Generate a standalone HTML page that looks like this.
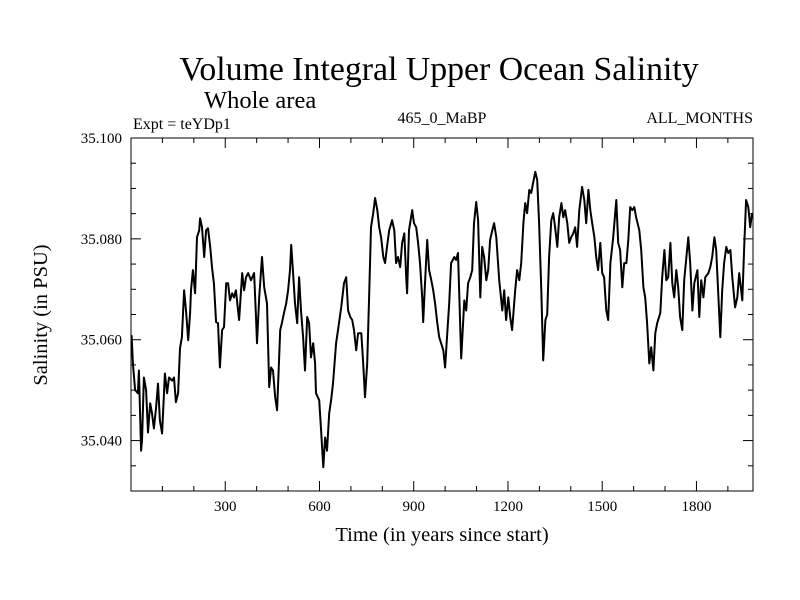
<!DOCTYPE html>
<html><head><meta charset="utf-8"><style>
body{margin:0;background:#fff;}
svg{display:block;font-family:"Liberation Serif",serif;}
</style></head><body>
<svg id="chart" width="800" height="600" viewBox="0 0 800 600">
<rect x="0" y="0" width="800" height="600" fill="#fff"/>
<text x="439" y="80" font-size="33.8" text-anchor="middle">Volume Integral Upper Ocean Salinity</text>
<text x="204" y="108" font-size="24.5">Whole area</text>
<text x="133" y="129" font-size="16">Expt = teYDp1</text>
<text x="442" y="123" font-size="16" text-anchor="middle">465_0_MaBP</text>
<text x="753" y="123" font-size="16" text-anchor="end">ALL_MONTHS</text>
<text x="442" y="541" font-size="20.5" text-anchor="middle">Time (in years since start)</text>
<text x="0" y="0" font-size="20.5" text-anchor="middle" transform="translate(47,315) rotate(-90)">Salinity (in PSU)</text>
<g id="axes"></g>
<path id="series" fill="none" stroke="#000" stroke-width="2" stroke-linejoin="round"/>
<rect x="131" y="138" width="622" height="353" fill="none" stroke="#000" stroke-width="1"/>
</svg>
<script>
const years=[2,6,13,22,25,32,35,41,48,54,61,67,73,80,86,92,99,108,115,121,131,137,143,150,156,162,169,175,182,188,191,197,204,210,217,220,226,233,239,245,252,258,264,271,277,283,290,296,303,309,315,322,328,334,344,354,360,366,373,382,392,398,401,408,417,424,433,440,446,452,459,465,475,481,487,494,500,506,510,516,522,529,535,541,548,554,561,567,573,580,586,589,599,605,612,618,624,631,637,643,653,659,669,678,685,691,698,704,710,717,723,733,739,745,752,758,764,771,777,784,790,796,803,809,815,822,831,838,844,850,857,863,870,876,879,885,895,901,908,914,920,927,930,936,943,949,956,962,968,975,981,987,994,1000,1006,1013,1019,1029,1035,1041,1051,1061,1067,1073,1080,1086,1092,1099,1105,1112,1118,1124,1131,1137,1143,1150,1156,1163,1172,1182,1188,1194,1201,1207,1213,1223,1229,1236,1242,1249,1255,1261,1268,1274,1280,1287,1293,1299,1306,1312,1319,1325,1331,1338,1344,1350,1357,1363,1370,1376,1382,1389,1395,1401,1408,1414,1420,1427,1436,1443,1449,1456,1462,1468,1475,1481,1487,1494,1500,1506,1513,1519,1526,1535,1545,1551,1557,1564,1570,1577,1583,1589,1596,1602,1608,1618,1624,1631,1637,1643,1650,1656,1663,1669,1675,1685,1691,1698,1704,1710,1717,1723,1729,1736,1742,1748,1755,1761,1768,1774,1780,1787,1793,1803,1809,1815,1822,1828,1838,1844,1850,1857,1863,1869,1876,1882,1888,1895,1901,1908,1914,1923,1930,1936,1946,1952,1958,1965,1971,1977];
const salinity=[35.0609,35.0553,35.0500,35.0494,35.0539,35.0380,35.0400,35.0525,35.0500,35.0416,35.0474,35.0454,35.0424,35.0466,35.0513,35.0440,35.0414,35.0533,35.0494,35.0525,35.0519,35.0525,35.0476,35.0494,35.0583,35.0605,35.0698,35.0658,35.0599,35.0653,35.0698,35.0738,35.0692,35.0803,35.0817,35.0841,35.0823,35.0764,35.0817,35.0821,35.0784,35.0744,35.0712,35.0635,35.0633,35.0545,35.0619,35.0625,35.0712,35.0712,35.0678,35.0692,35.0684,35.0698,35.0639,35.0732,35.0698,35.0724,35.0732,35.0718,35.0732,35.0645,35.0593,35.0684,35.0764,35.0704,35.0672,35.0506,35.0545,35.0539,35.0486,35.0460,35.0619,35.0635,35.0653,35.0672,35.0698,35.0738,35.0788,35.0732,35.0672,35.0633,35.0724,35.0658,35.0605,35.0539,35.0645,35.0633,35.0565,35.0593,35.0553,35.0494,35.0480,35.0420,35.0347,35.0406,35.0380,35.0454,35.0480,35.0513,35.0593,35.0619,35.0664,35.0712,35.0724,35.0658,35.0645,35.0639,35.0619,35.0579,35.0613,35.0613,35.0553,35.0486,35.0553,35.0684,35.0823,35.0851,35.0881,35.0857,35.0823,35.0803,35.0764,35.0752,35.0784,35.0817,35.0837,35.0817,35.0752,35.0764,35.0744,35.0792,35.0811,35.0724,35.0692,35.0817,35.0857,35.0831,35.0823,35.0792,35.0752,35.0684,35.0635,35.0712,35.0798,35.0738,35.0718,35.0698,35.0672,35.0633,35.0605,35.0593,35.0579,35.0545,35.0605,35.0672,35.0752,35.0764,35.0758,35.0772,35.0563,35.0678,35.0658,35.0712,35.0724,35.0738,35.0831,35.0873,35.0837,35.0684,35.0784,35.0764,35.0718,35.0738,35.0798,35.0817,35.0831,35.0803,35.0718,35.0658,35.0698,35.0639,35.0684,35.0645,35.0619,35.0698,35.0738,35.0718,35.0752,35.0831,35.0871,35.0851,35.0897,35.0891,35.0911,35.0933,35.0917,35.0831,35.0698,35.0559,35.0639,35.0650,35.0764,35.0837,35.0851,35.0823,35.0784,35.0843,35.0871,35.0843,35.0857,35.0831,35.0792,35.0803,35.0811,35.0823,35.0784,35.0857,35.0903,35.0877,35.0831,35.0897,35.0857,35.0831,35.0803,35.0764,35.0738,35.0792,35.0732,35.0724,35.0658,35.0639,35.0752,35.0803,35.0877,35.0792,35.0778,35.0704,35.0752,35.0752,35.0798,35.0863,35.0857,35.0863,35.0843,35.0817,35.0778,35.0704,35.0684,35.0633,35.0553,35.0585,35.0539,35.0613,35.0633,35.0653,35.0724,35.0778,35.0718,35.0724,35.0792,35.0712,35.0684,35.0738,35.0704,35.0645,35.0619,35.0718,35.0764,35.0803,35.0752,35.0658,35.0712,35.0738,35.0645,35.0718,35.0684,35.0724,35.0732,35.0744,35.0764,35.0803,35.0778,35.0698,35.0605,35.0698,35.0752,35.0784,35.0772,35.0778,35.0724,35.0664,35.0684,35.0732,35.0678,35.0784,35.0877,35.0863,35.0823,35.0851];
const xTicks=[300,600,900,1200,1500,1800];
const yTicks=[35.040,35.060,35.080,35.100];
const yTickLabels=["35.040","35.060","35.080","35.100"];

const X0=131,X1=753,Y0=491,Y1=138;
const xMin=0,xMax=1980,yMin=35.030,yMax=35.100;
function sx(v){return X0+(v-xMin)/(xMax-xMin)*(X1-X0);}
function sy(v){return Y0-(v-yMin)/(yMax-yMin)*(Y0-Y1);}
const NS='http://www.w3.org/2000/svg';
const axes=document.getElementById('axes');
function line(x1,y1,x2,y2){const l=document.createElementNS(NS,'line');l.setAttribute('x1',x1);l.setAttribute('y1',y1);l.setAttribute('x2',x2);l.setAttribute('y2',y2);l.setAttribute('stroke','#000');l.setAttribute('stroke-width','1');axes.appendChild(l);return l;}
for(let v=100;v<xMax;v+=100){
  const major=v%300===0; const len=major?10:5; const x=sx(v);
  const a=line(x,Y0,x,Y0-len);
  
  
  const b=line(x,Y1,x,Y1+len);
  
  
}
xTicks.forEach(v=>{
  const t=document.createElementNS(NS,'text');
  t.setAttribute('x',sx(v));t.setAttribute('y',Y0+20);t.setAttribute('font-size','15');t.setAttribute('text-anchor','middle');
  t.textContent=String(v);
  
  
  axes.appendChild(t);
});
for(let i=1;i<14;i++){
  const v=yMin+i*0.005; const major=(i%4===2); const len=major?10:5; const y=sy(v);
  const a=line(X0,y,X0+len,y);
  
  
  const b=line(X1,y,X1-len,y);
  
  
}
yTicks.forEach((v,i)=>{
  const t=document.createElementNS(NS,'text');
  t.setAttribute('x',X0-9);t.setAttribute('y',sy(v)+5);t.setAttribute('font-size','15');t.setAttribute('text-anchor','end');
  t.textContent=yTickLabels[i];
  
  
  axes.appendChild(t);
});
let d='';
years.forEach((yr,i)=>{d+=(i?'L':'M')+sx(yr).toFixed(1)+','+sy(salinity[i]).toFixed(1);});
document.getElementById('series').setAttribute('d',d);
</script>
</body></html>
